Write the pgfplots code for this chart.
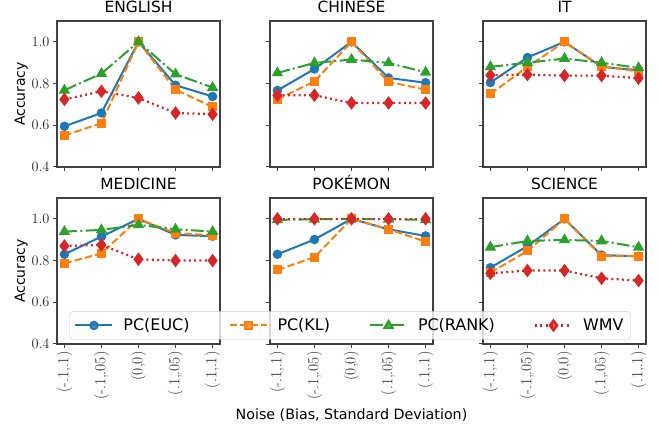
\documentclass[border=0pt]{standalone}
\usepackage{fontspec}
\setsansfont{DejaVu Sans}
\usepackage{pgfplots}
\usepackage{pgfplotstable}
\pgfplotsset{compat=1.18}
\definecolor{cblue}{HTML}{1F77B4}
\definecolor{corange}{HTML}{FF7F0E}
\definecolor{cgreen}{HTML}{2CA02C}
\definecolor{cred}{HTML}{D62728}

\pgfplotstableread{
x euc kl rank wmv
0 0.595 0.551 0.768 0.724
1 0.659 0.610 0.848 0.763
2 1.000 1.000 1.000 0.731
3 0.792 0.771 0.845 0.659
4 0.738 0.688 0.781 0.653
}\english
\pgfplotstableread{
x euc kl rank wmv
0 0.767 0.724 0.851 0.744
1 0.870 0.810 0.899 0.744
2 1.000 1.000 0.915 0.707
3 0.827 0.808 0.899 0.707
4 0.804 0.771 0.854 0.707
}\chinese
\pgfplotstableread{
x euc kl rank wmv
0 0.805 0.750 0.880 0.840
1 0.925 0.880 0.900 0.843
2 1.000 1.000 0.920 0.838
3 0.880 0.883 0.900 0.838
4 0.864 0.858 0.875 0.826
}\ittable
\pgfplotstableread{
x euc kl rank wmv
0 0.830 0.787 0.939 0.870
1 0.915 0.834 0.947 0.875
2 1.000 1.000 0.971 0.806
3 0.923 0.931 0.950 0.800
4 0.917 0.922 0.939 0.800
}\medicine
\pgfplotstableread{
x euc kl rank wmv
0 0.830 0.755 0.995 1.000
1 0.901 0.816 0.998 1.000
2 1.000 1.000 1.000 1.000
3 0.950 0.950 0.998 1.000
4 0.918 0.891 0.995 1.000
}\pokemon
\pgfplotstableread{
x euc kl rank wmv
0 0.766 0.742 0.864 0.739
1 0.869 0.846 0.894 0.752
2 1.000 1.000 0.899 0.752
3 0.826 0.821 0.894 0.715
4 0.821 0.821 0.864 0.704
}\science

\pgfplotsset{
  panel/.style={
    scale only axis, width=163bp, height=146bp,
    xmin=-0.2, xmax=4.2, ymin=0.4, ymax=1.1,
    xtick={0,1,2,3,4}, ytick={0.4,0.6,0.8,1.0},
    tick align=outside, tick pos=left,
    major tick length=4bp,
    every tick/.style={black!75, line width=1bp},
    axis line style={black!75, line width=1.3bp},
    yticklabel style={/pgf/number format/fixed, /pgf/number format/fixed zerofill, /pgf/number format/precision=1},
    tick label style={font=\fontsize{15.5}{15.5}\selectfont, text=black!85},
    title style={font=\sffamily\fontsize{15.5}{15.5}\selectfont, at={(0.5,1)}, anchor=base, yshift=3bp, inner sep=0pt},
    ylabel style={font=\sffamily\fontsize{14}{14}\selectfont, at={(axis description cs:-0.22,0.5)}, anchor=center},
  },
  toprow/.style={xticklabels={}},
  botrow/.style={xticklabels={{(-.1,.1)},{(-.1,.05)},{(0,0)},{(.1,.05)},{(.1,.1)}},
    xticklabel style={rotate=90, anchor=east}},
  noy/.style={yticklabels={}},
  euc/.style={cblue, solid, line width=2bp, mark=*, mark size=3.7bp, mark options={solid}},
  kl/.style={corange, dash pattern=on 7.4bp off 3.2bp, line width=2bp, mark=square*, mark size=3.5bp, mark options={solid}},
  rank/.style={cgreen, dash pattern=on 12.8bp off 3.2bp on 2bp off 3.2bp, line width=2bp, mark=triangle*, mark size=4.6bp, mark options={solid}},
  wmv/.style={cred, dash pattern=on 2bp off 3.3bp, line width=2.2bp, mark=diamond*, mark size=5bp, mark options={solid}},
}

\begin{document}
\begin{tikzpicture}
\path[use as bounding box] (0,0) rectangle (659bp,433bp);

\begin{axis}[panel, toprow, at={(57bp,266bp)}, anchor=south west, title={ENGLISH}, ylabel={Accuracy}]
\addplot[euc] table[x=x,y=euc] {\english};
\addplot[kl] table[x=x,y=kl] {\english};
\addplot[rank] table[x=x,y=rank] {\english};
\addplot[wmv] table[x=x,y=wmv] {\english};
\end{axis}

\begin{axis}[panel, toprow, noy, at={(270bp,266bp)}, anchor=south west, title={CHINESE}]
\addplot[euc] table[x=x,y=euc] {\chinese};
\addplot[kl] table[x=x,y=kl] {\chinese};
\addplot[rank] table[x=x,y=rank] {\chinese};
\addplot[wmv] table[x=x,y=wmv] {\chinese};
\end{axis}

\begin{axis}[panel, toprow, noy, at={(483bp,266bp)}, anchor=south west, title={IT}]
\addplot[euc] table[x=x,y=euc] {\ittable};
\addplot[kl] table[x=x,y=kl] {\ittable};
\addplot[rank] table[x=x,y=rank] {\ittable};
\addplot[wmv] table[x=x,y=wmv] {\ittable};
\end{axis}

\begin{axis}[panel, botrow, at={(57bp,89bp)}, anchor=south west, title={MEDICINE}, ylabel={Accuracy}]
\addplot[euc] table[x=x,y=euc] {\medicine};
\addplot[kl] table[x=x,y=kl] {\medicine};
\addplot[rank] table[x=x,y=rank] {\medicine};
\addplot[wmv] table[x=x,y=wmv] {\medicine};
\end{axis}

\begin{axis}[panel, botrow, noy, at={(270bp,89bp)}, anchor=south west, title={POKÉMON},
  xlabel={Noise (Bias, Standard Deviation)},
  xlabel style={font=\sffamily\fontsize{14.3}{14.3}\selectfont, at={(axis description cs:0.5,0)}, anchor=base, yshift=-75bp}]
\addplot[euc] table[x=x,y=euc] {\pokemon};
\addplot[kl] table[x=x,y=kl] {\pokemon};
\addplot[rank] table[x=x,y=rank] {\pokemon};
\addplot[wmv] table[x=x,y=wmv] {\pokemon};
\end{axis}

\begin{axis}[panel, botrow, noy, at={(483bp,89bp)}, anchor=south west, title={SCIENCE},
  legend columns=4,
  legend cell align=left,
  legend image code/.code={\draw[mark repeat=2, mark phase=2] plot coordinates {(0bp,0bp) (18.5bp,0bp) (37bp,0bp)};},
  legend style={at={(axis description cs:-0.816,0.127)}, anchor=center, draw=black!20, rounded corners=3bp,
    fill=white, fill opacity=0.8, text opacity=1, font=\sffamily\fontsize{16}{16}\selectfont,
    /tikz/every odd column/.append style={column sep=8bp},
    /tikz/every even column/.append style={column sep=37bp}, inner xsep=5bp, inner ysep=5bp}]
\addplot[euc] table[x=x,y=euc] {\science};
\addplot[kl] table[x=x,y=kl] {\science};
\addplot[rank] table[x=x,y=rank] {\science};
\addplot[wmv] table[x=x,y=wmv] {\science};
\legend{PC(EUC),PC(KL),PC(RANK),WMV}
\end{axis}
\end{tikzpicture}
\end{document}
